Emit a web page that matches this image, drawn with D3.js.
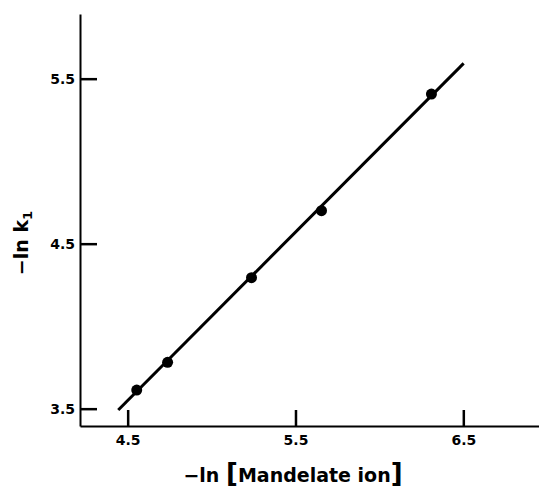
<!DOCTYPE html>
<html>
<head>
<meta charset="utf-8">
<script src="https://cdn.jsdelivr.net/npm/d3@7"></script>
<style>
  body { margin: 0; background: #fff; }
  svg { display: block; }
  .axis text { font-family: "DejaVu Sans", sans-serif; font-weight: bold; font-size: 14px; fill: #000; }
  .title { font-family: "DejaVu Sans", sans-serif; font-weight: bold; fill: #000; }
</style>
</head>
<body>
<div id="chart"></div>
<script>
// measured points: -ln[Mandelate ion] vs -ln k1
const xValues = [4.554, 4.738, 5.238, 5.655, 6.31];
const yValues = [3.613, 3.781, 4.294, 4.70, 5.407];
// least-squares line as drawn
const fitX = [4.444, 6.502];
const fitY = [3.492, 5.593];
const xTicks = [4.5, 5.5, 6.5];
const yTicks = [3.5, 4.5, 5.5];

const width = 539, height = 491;
const svg = d3.select('#chart').append('svg')
  .attr('width', width)
  .attr('height', height);

const x = d3.scaleLinear().domain([4.216, 6.951]).range([80, 539]);
const y = d3.scaleLinear().domain([3.395, 5.892]).range([426, 14]);

// y axis, ticks pointing inward
const yAxis = d3.axisLeft(y)
  .tickValues(yTicks)
  .tickFormat(d3.format('.1f'))
  .tickSizeInner(-17)
  .tickSizeOuter(0)
  .tickPadding(5);
svg.append('g')
  .attr('class', 'axis')
  .attr('transform', 'translate(80,0)')
  .call(yAxis);

// x axis, ticks pointing up
const xAxis = d3.axisBottom(x)
  .tickValues(xTicks)
  .tickFormat(d3.format('.1f'))
  .tickSizeInner(-16)
  .tickSizeOuter(0)
  .tickPadding(9);
svg.append('g')
  .attr('class', 'axis')
  .attr('transform', 'translate(0,426)')
  .call(xAxis);

svg.selectAll('.axis path').attr('stroke', '#000').attr('stroke-width', 2);
svg.selectAll('.axis line').attr('stroke', '#000').attr('stroke-width', 2.5);

// fitted line
const line = d3.line().x(d => x(d[0])).y(d => y(d[1]));
svg.append('path')
  .datum(d3.zip(fitX, fitY))
  .attr('d', line)
  .attr('fill', 'none')
  .attr('stroke', '#000')
  .attr('stroke-width', 3);

// points
svg.selectAll('circle.pt')
  .data(d3.zip(xValues, yValues))
  .enter()
  .append('circle')
  .attr('class', 'pt')
  .attr('cx', d => x(d[0]))
  .attr('cy', d => y(d[1]))
  .attr('r', 5.5)
  .attr('fill', '#000');

// x title
const xt = svg.append('text')
  .attr('class', 'title')
  .attr('x', 293)
  .attr('y', 482)
  .attr('text-anchor', 'middle')
  .attr('font-size', 19);
xt.append('tspan').text('\u2212ln ');
xt.append('tspan').attr('font-size', 26).text('[');
xt.append('tspan').text('Mandelate ion');
xt.append('tspan').attr('font-size', 26).text(']');

// y title
const yt = svg.append('text')
  .attr('class', 'title')
  .attr('transform', 'translate(28,243) rotate(-90)')
  .attr('text-anchor', 'middle')
  .attr('font-size', 19);
yt.append('tspan').text('\u2212ln k');
yt.append('tspan').attr('font-size', 13).attr('dy', 4).text('1');
</script>
</body>
</html>
